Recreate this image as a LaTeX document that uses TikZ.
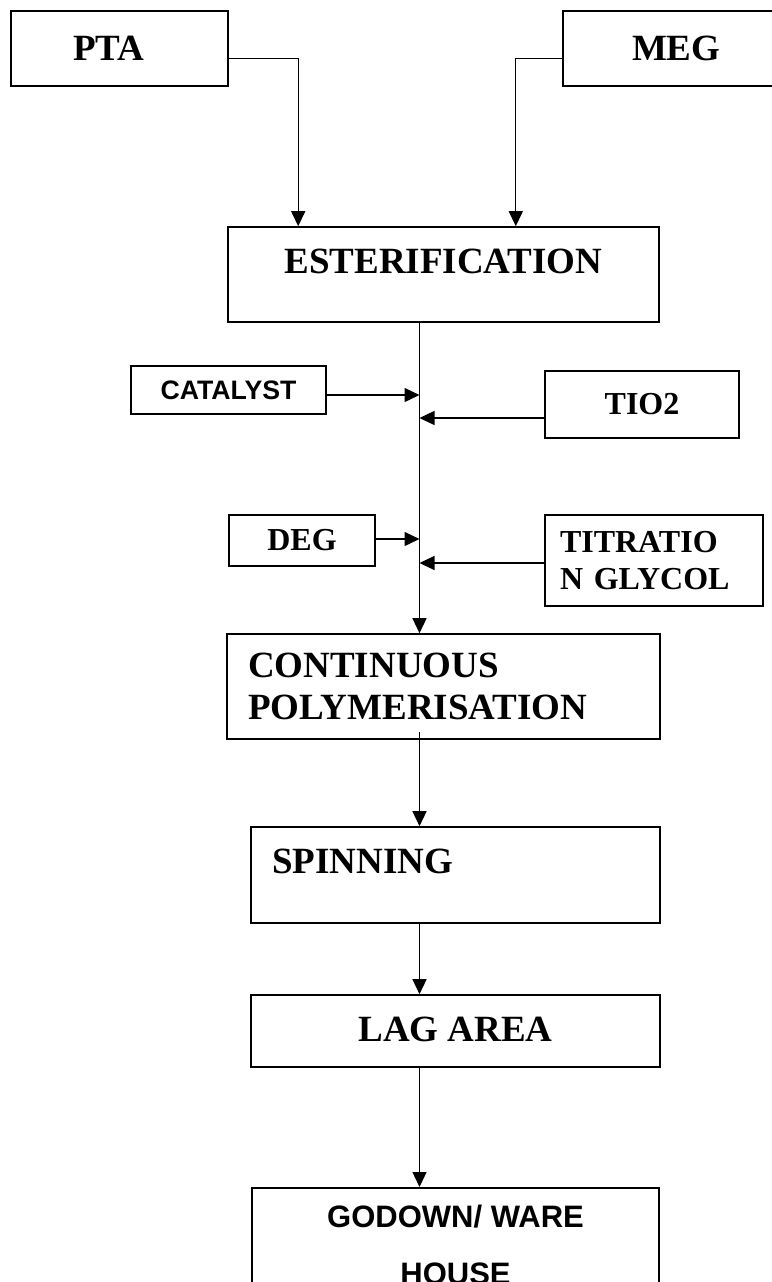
\documentclass[tikz,border=0pt]{standalone}
\usepackage{fontspec}
\setmainfont{Liberation Serif}
\newfontfamily\arialfont{Liberation Sans}
\usetikzlibrary{arrows.meta}

\begin{document}
\begin{tikzpicture}[x=1pt,y=-1pt,
  box/.style={draw, line width=1.6pt, inner sep=0pt, font=\bfseries\fontsize{37}{42}\selectfont},
  smallbox/.style={box, font=\bfseries\fontsize{32}{37}\selectfont},
  flow/.style={line width=1.3pt, -{Triangle[length=15pt,width=14pt]}}]
\useasboundingbox (0,0) rectangle (771,1282);
\node[box, align=left, text width=93pt, inner xsep=62pt, minimum height=75pt] (pta) at (119.5,48.5) {PTA};
\node[box, align=left, text width=99pt, inner xsep=69pt, minimum height=75pt] (meg) at (681.5,48.5) {MEG};
\node[box, minimum width=431pt, text height=46pt, text depth=49pt] (ester) at (443.5,274.5) {ESTERIFICATION};
\node[box, font=\arialfont\bfseries\fontsize{26.7}{30}\selectfont, minimum width=195pt, minimum height=48pt] (catalyst) at (228.5,390) {CATALYST};
\node[smallbox, minimum width=194pt, minimum height=67pt] (tio) at (642,404.5) {TIO2};
\node[smallbox, minimum width=146pt, minimum height=51pt] (deg) at (302,540.5) {DEG};
\node[smallbox, align=left, text width=188pt, inner xsep=15pt, minimum height=91pt] (titr) at (654,560.5) {TITRATIO\\N GLYCOL};
\node[box, align=left, text width=391pt, inner xsep=21pt, minimum height=105pt] (cont) at (443.5,686.5) {CONTINUOUS\\POLYMERISATION};
\node[box, align=left, text width=367pt, inner xsep=21pt, text height=46pt, text depth=50pt] (spin) at (455.5,875) {SPINNING};
\node[box, minimum width=409pt, text height=46pt, text depth=26pt] (lag) at (455.5,1031) {LAG AREA};
\node[box, font=\arialfont\bfseries\fontsize{31}{57}\selectfont, align=center, minimum width=407pt, inner ysep=17pt, anchor=north] (godown) at (455.5,1187) {GODOWN/ WARE\\HOUSE};
\coordinate (trunk) at (419.5,0);
\draw[flow] ([yshift=-10pt]pta.east) -| ([xshift=71pt]ester.north west);
\draw[flow] ([yshift=-10pt]meg.west) -| ([xshift=-144pt]ester.north east);
\draw[flow] (ester.south -| trunk) -- (cont.north -| trunk);
\draw[flow] ([yshift=-5pt]catalyst.east) coordinate (c1) -- (c1 -| trunk);
\draw[flow] ([yshift=-13.5pt]tio.west) coordinate (c2) -- (c2 -| trunk);
\draw[flow] ([yshift=1.5pt]deg.east) coordinate (c3) -- (c3 -| trunk);
\draw[flow] ([yshift=-2.5pt]titr.west) coordinate (c4) -- (c4 -| trunk);
\path ([yshift=8pt]cont.south) coordinate (c5);
\draw[flow] (c5 -| trunk) -- (spin.north -| trunk);
\draw[flow] (spin.south -| trunk) -- (lag.north -| trunk);
\draw[flow] (lag.south -| trunk) -- (godown.north -| trunk);
\end{tikzpicture}
\end{document}
